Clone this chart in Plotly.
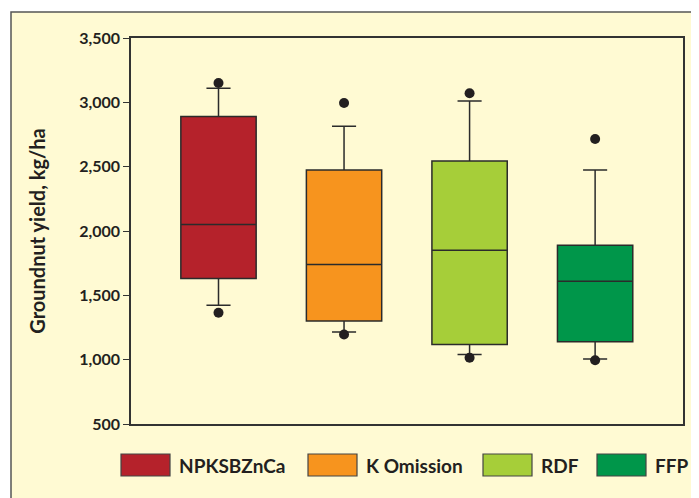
import plotly.graph_objects as go

# ---- data ----
categories = ["NPKSBZnCa", "K Omission", "RDF", "FFP"]
q1 = [1630, 1300, 1117, 1140]
median = [2050, 1740, 1850, 1610]
q3 = [2890, 2475, 2545, 1890]
lower_whisker = [1422, 1215, 1040, 1005]
upper_whisker = [3110, 2815, 3010, 2475]
outliers_high = [3150, 2995, 3070, 2715]
outliers_low = [1365, 1195, 1015, 995]
colors = ["#B5222B", "#F7941E", "#A6CE39", "#00964A"]
y_ticks = [500, 1000, 1500, 2000, 2500, 3000, 3500]

OFF = 8  # default page body margin
W, H = 699 - OFF, 498 - OFF
ML, MR, MT, MB = 131 - OFF, 16, 38 - OFF, 74
PW, PH = W - ML - MR, H - MT - MB

def px_x(p):  # page pixel -> paper
    return (p - OFF - ML) / PW

def px_y(p):
    return (H - MB - (p - OFF)) / PH

FONT = "Lato"
DARK = "#231F20"

fig = go.Figure()
for i, cat in enumerate(categories):
    fig.add_trace(go.Box(
        x=[i], q1=[q1[i]], median=[median[i]], q3=[q3[i]],
        lowerfence=[lower_whisker[i]], upperfence=[upper_whisker[i]],
        name=cat, width=0.6, whiskerwidth=0.32,
        fillcolor=colors[i], line=dict(color="#2b2b2b", width=1.5),
        boxpoints=False, showlegend=False, hoverinfo="skip",
    ))
    fig.add_trace(go.Scatter(
        x=[i, i], y=[outliers_high[i], outliers_low[i]], mode="markers",
        marker=dict(color=DARK, size=10), showlegend=False, hoverinfo="skip",
    ))

shapes = [
    dict(type="rect", xref="paper", yref="paper", layer="below",
         x0=px_x(11), x1=px_x(720), y0=px_y(520), y1=px_y(12),
         fillcolor="#FFFAD3", line=dict(color="#555555", width=1.5)),
]
annotations = []
sw_x = [121, 308, 483, 597]
for i, cat in enumerate(categories):
    shapes.append(dict(type="rect", xref="paper", yref="paper",
                       x0=px_x(sw_x[i]), x1=px_x(sw_x[i] + 49),
                       y0=px_y(476), y1=px_y(454),
                       fillcolor=colors[i], line=dict(color="#444444", width=1.2)))
    annotations.append(dict(xref="paper", yref="paper", x=px_x(sw_x[i] + 56), y=px_y(465),
                            text=cat, showarrow=False, xanchor="left", yanchor="middle",
                            font=dict(family=FONT, size=19, color=DARK, weight="bold")))

fig.update_layout(
    width=W, height=H,
    margin=dict(l=ML, r=MR, t=MT, b=MB),
    paper_bgcolor="white", plot_bgcolor="white",
    shapes=shapes, annotations=annotations,
    font=dict(family=FONT, color=DARK),
)
fig.update_xaxes(range=[-0.697, 3.70], showticklabels=False, ticks="",
                 showgrid=False, zeroline=False, showline=True, mirror=True,
                 linecolor="#333333", linewidth=1.5)
fig.update_yaxes(range=[500, 3500], tickvals=y_ticks, tickformat=",",
                 ticks="outside", ticklen=6, tickcolor="#333333",
                 showgrid=False, zeroline=False, showline=True, mirror=True,
                 linecolor="#333333", linewidth=1.5,
                 tickfont=dict(family=FONT, size=16, color=DARK, weight="bold"),
                 title=dict(text="Groundnut yield, kg/ha", standoff=28,
                            font=dict(family=FONT, size=20, color=DARK, weight="bold")))

fig.write_html("out.html")
